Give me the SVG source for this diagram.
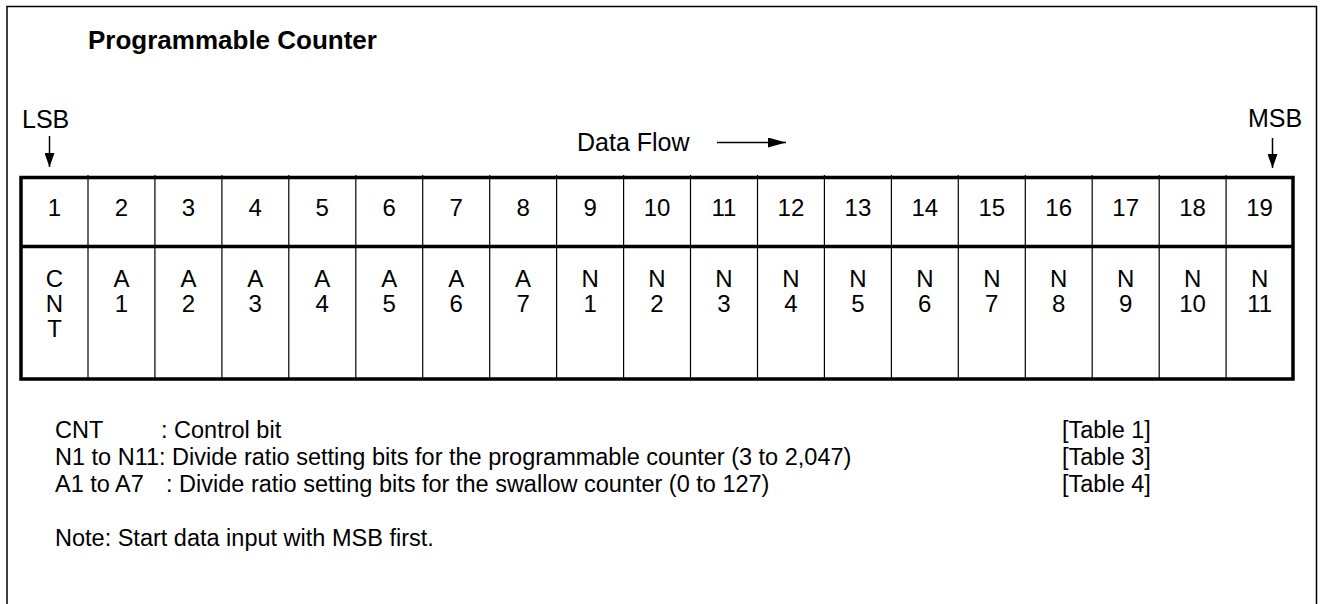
<svg xmlns="http://www.w3.org/2000/svg" width="1320" height="604" viewBox="0 0 1320 604">
  <style>
    text { font-family: "Liberation Sans", Arial, Helvetica, sans-serif; fill: #000; }
    .title { font-size: 26px; font-weight: bold; }
    .lbl { font-size: 25px; }
    .cell { font-size: 24px; text-anchor: middle; }
    .leg { font-size: 23.5px; }
    .frame { fill: none; stroke: #000; stroke-width: 1.5; }
    .thick { fill: none; stroke: #000; stroke-width: 3.5; }
    .thin { stroke: #000; stroke-width: 1.2; }
    .arrow { stroke: #000; stroke-width: 1.5; fill: none; }
  </style>
  <defs>
    <marker id="ah" viewBox="0 0 14 10" refX="14" refY="5" markerWidth="14" markerHeight="10" markerUnits="userSpaceOnUse" orient="auto">
      <path d="M0,0 L14,5 L0,10 Z" fill="#000"/>
    </marker>
    <marker id="ahl" viewBox="0 0 18 10" refX="18" refY="5" markerWidth="18" markerHeight="10" markerUnits="userSpaceOnUse" orient="auto">
      <path d="M0,0 L18,5 L0,10 Z" fill="#000"/>
    </marker>
  </defs>
  <rect width="1320" height="604" fill="#fff"/>
  <path class="frame" d="M7,604 V6.5 H1316.5 V604"/>

  <g id="title"><text class="title" x="88" y="48.5">Programmable Counter</text></g>

  <g id="lsb"><text class="lbl" x="22" y="128">LSB</text></g>
  <g id="msb"><text class="lbl" x="1248" y="127">MSB</text></g>
  <g id="dataflow"><text class="lbl" x="577" y="151">Data Flow</text></g>

  <g id="connectors">
    <line class="arrow" x1="49.5" y1="136" x2="49.5" y2="167" marker-end="url(#ah)"/>
    <line class="arrow" x1="1272.5" y1="138" x2="1272.5" y2="168" marker-end="url(#ah)"/>
    <line class="arrow" x1="717" y1="142.5" x2="786" y2="142.5" marker-end="url(#ahl)"/>
  </g>

  <g id="register">
    <g id="gridlines">
      <line class="thin" x1="88" y1="175" x2="88" y2="379"/>
      <line class="thin" x1="154.9" y1="175" x2="154.9" y2="379"/>
      <line class="thin" x1="221.9" y1="175" x2="221.9" y2="379"/>
      <line class="thin" x1="288.8" y1="175" x2="288.8" y2="379"/>
      <line class="thin" x1="355.8" y1="175" x2="355.8" y2="379"/>
      <line class="thin" x1="422.7" y1="175" x2="422.7" y2="379"/>
      <line class="thin" x1="489.7" y1="175" x2="489.7" y2="379"/>
      <line class="thin" x1="556.6" y1="175" x2="556.6" y2="379"/>
      <line class="thin" x1="623.6" y1="175" x2="623.6" y2="379"/>
      <line class="thin" x1="690.5" y1="175" x2="690.5" y2="379"/>
      <line class="thin" x1="757.5" y1="175" x2="757.5" y2="379"/>
      <line class="thin" x1="824.4" y1="175" x2="824.4" y2="379"/>
      <line class="thin" x1="891.4" y1="175" x2="891.4" y2="379"/>
      <line class="thin" x1="958.3" y1="175" x2="958.3" y2="379"/>
      <line class="thin" x1="1025.3" y1="175" x2="1025.3" y2="379"/>
      <line class="thin" x1="1092.2" y1="175" x2="1092.2" y2="379"/>
      <line class="thin" x1="1159.2" y1="175" x2="1159.2" y2="379"/>
      <line class="thin" x1="1226.1" y1="175" x2="1226.1" y2="379"/>
      <rect class="thick" x="21" y="177.5" width="1272" height="201.5"/>
      <line class="thick" x1="21" y1="246.5" x2="1293" y2="246.5"/>
    </g>
    <g id="bitnumbers">
      <text class="cell" x="54.5" y="215.5">1</text>
      <text class="cell" x="121.4" y="215.5">2</text>
      <text class="cell" x="188.4" y="215.5">3</text>
      <text class="cell" x="255.3" y="215.5">4</text>
      <text class="cell" x="322.3" y="215.5">5</text>
      <text class="cell" x="389.2" y="215.5">6</text>
      <text class="cell" x="456.2" y="215.5">7</text>
      <text class="cell" x="523.1" y="215.5">8</text>
      <text class="cell" x="590.1" y="215.5">9</text>
      <text class="cell" x="657" y="215.5">10</text>
      <text class="cell" x="724" y="215.5">11</text>
      <text class="cell" x="790.9" y="215.5">12</text>
      <text class="cell" x="857.9" y="215.5">13</text>
      <text class="cell" x="924.8" y="215.5">14</text>
      <text class="cell" x="991.8" y="215.5">15</text>
      <text class="cell" x="1058.7" y="215.5">16</text>
      <text class="cell" x="1125.7" y="215.5">17</text>
      <text class="cell" x="1192.6" y="215.5">18</text>
      <text class="cell" x="1259.6" y="215.5">19</text>
    </g>
    <g id="bitnames">
      <text class="cell" x="54.5" y="287">C<tspan x="54.5" dy="25">N</tspan><tspan x="54.5" dy="25">T</tspan></text>
      <text class="cell" x="121.4" y="287">A<tspan x="121.4" dy="25">1</tspan></text>
      <text class="cell" x="188.4" y="287">A<tspan x="188.4" dy="25">2</tspan></text>
      <text class="cell" x="255.3" y="287">A<tspan x="255.3" dy="25">3</tspan></text>
      <text class="cell" x="322.3" y="287">A<tspan x="322.3" dy="25">4</tspan></text>
      <text class="cell" x="389.2" y="287">A<tspan x="389.2" dy="25">5</tspan></text>
      <text class="cell" x="456.2" y="287">A<tspan x="456.2" dy="25">6</tspan></text>
      <text class="cell" x="523.1" y="287">A<tspan x="523.1" dy="25">7</tspan></text>
      <text class="cell" x="590.1" y="287">N<tspan x="590.1" dy="25">1</tspan></text>
      <text class="cell" x="657" y="287">N<tspan x="657" dy="25">2</tspan></text>
      <text class="cell" x="724" y="287">N<tspan x="724" dy="25">3</tspan></text>
      <text class="cell" x="790.9" y="287">N<tspan x="790.9" dy="25">4</tspan></text>
      <text class="cell" x="857.9" y="287">N<tspan x="857.9" dy="25">5</tspan></text>
      <text class="cell" x="924.8" y="287">N<tspan x="924.8" dy="25">6</tspan></text>
      <text class="cell" x="991.8" y="287">N<tspan x="991.8" dy="25">7</tspan></text>
      <text class="cell" x="1058.7" y="287">N<tspan x="1058.7" dy="25">8</tspan></text>
      <text class="cell" x="1125.7" y="287">N<tspan x="1125.7" dy="25">9</tspan></text>
      <text class="cell" x="1192.6" y="287">N<tspan x="1192.6" dy="25">10</tspan></text>
      <text class="cell" x="1259.6" y="287">N<tspan x="1259.6" dy="25">11</tspan></text>
    </g>
  </g>

  <g id="legend">
    <text class="leg" x="55" y="438">CNT<tspan x="161">: Control bit</tspan></text>
    <text class="leg" x="1062" y="438">[Table 1]</text>
    <text class="leg" x="55" y="465">N1 to N11: Divide ratio setting bits for the programmable counter (3 to 2,047)</text>
    <text class="leg" x="1062" y="465">[Table 3]</text>
    <text class="leg" x="55" y="492">A1 to A7<tspan x="166">: Divide ratio setting bits for the swallow counter (0 to 127)</tspan></text>
    <text class="leg" x="1062" y="492">[Table 4]</text>
    <text class="leg" x="55" y="546">Note: Start data input with MSB first.</text>
  </g>
</svg>
